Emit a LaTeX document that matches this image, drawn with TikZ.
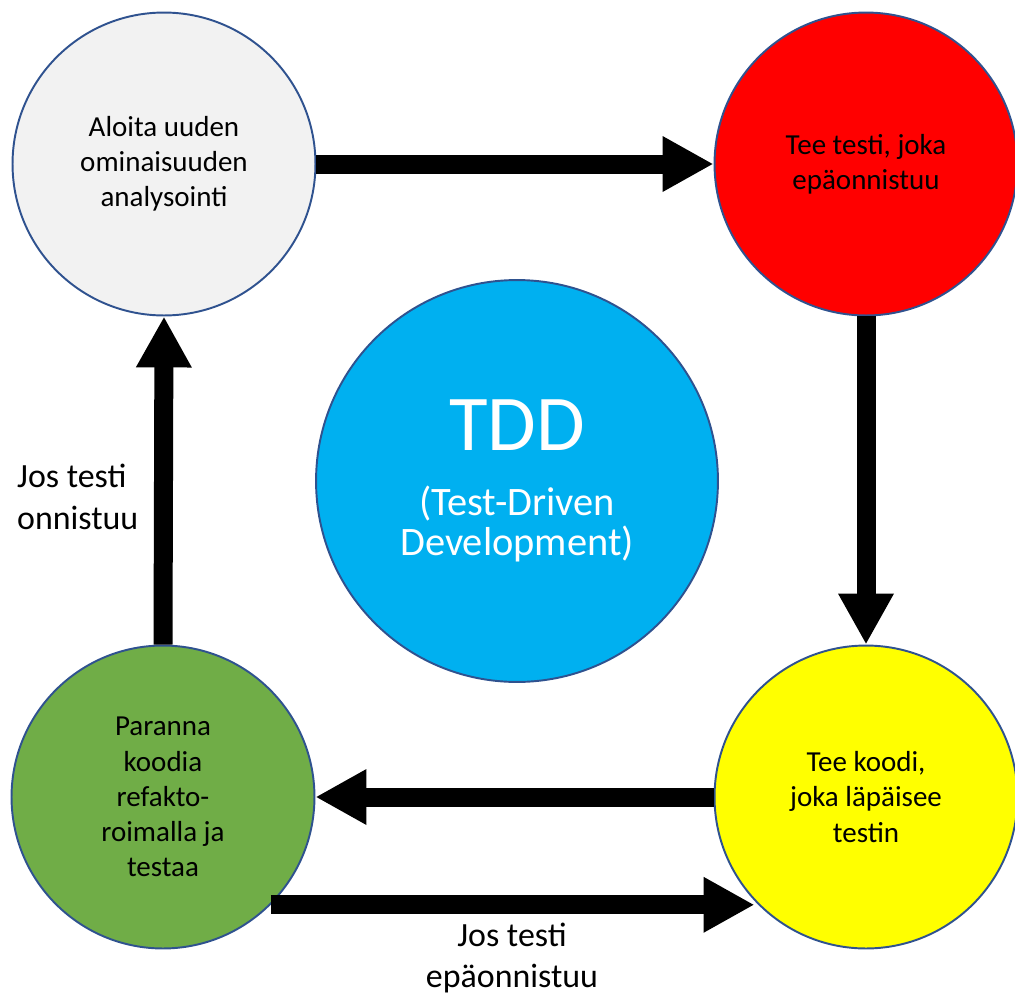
\documentclass[tikz,border=0pt]{standalone}
\usepackage{fontspec}
\setmainfont{Carlito}
\usetikzlibrary{arrows.meta}
\definecolor{rim}{HTML}{2F528F}
\definecolor{pale}{HTML}{F2F2F2}
\definecolor{sky}{HTML}{00B0F0}
\definecolor{leaf}{HTML}{70AD47}
\definecolor{sun}{HTML}{FFFF00}
\definecolor{fire}{HTML}{FF0000}

\begin{document}
\begin{tikzpicture}[x=0.02cm,y=-0.02cm,
    bubble/.style={circle,draw=rim,line width=1.1pt,minimum size=6.06cm,inner sep=0pt,
      align=center,font=\fontsize{16.5}{20}\selectfont},
    fat/.style={line width=0.38cm,-{Triangle[length=1.02cm,width=1.04cm]}},
    note/.style={align=left,font=\fontsize{19.3}{23.9}\selectfont}]
  \useasboundingbox (0,0) rectangle (1015,994);
  \node[bubble,fill=pale] (ana) at (164,164) {Aloita uuden\\ominaisuuden\\analysointi};
  \node[bubble,fill=fire] (fail) at (866,164) {Tee testi, joka\\epäonnistuu};
  \node[bubble,fill=sun] (code) at (866,797) {Tee koodi,\\joka läpäisee\\testin};
  \node[bubble,fill=leaf] (refac) at (163,797) {Paranna\\koodia\\refakto-\\roimalla ja\\testaa};
  \node[bubble,fill=sky,minimum size=8.04cm,text=white,font=\fontsize{23}{23}\selectfont]
    (tdd) at (517,481) {{\fontsize{45}{45}\selectfont TDD}\\[14pt](Test-Driven\\Development)};
  \foreach \a/\b in {ana.east/fail.west,fail.south/code.north,code.west/refac.east,refac.north/ana.south}
    \draw[fat] (\a)--(\b);
  \draw[fat] (refac.-45)--(refac.-45 -| code.223);
  \node[note,anchor=west] (pass) at (11,497) {Jos testi\\onnistuu};
  \node[note,align=center] (nopass) at (512,958) {Jos testi\\epäonnistuu};
\end{tikzpicture}
\end{document}
